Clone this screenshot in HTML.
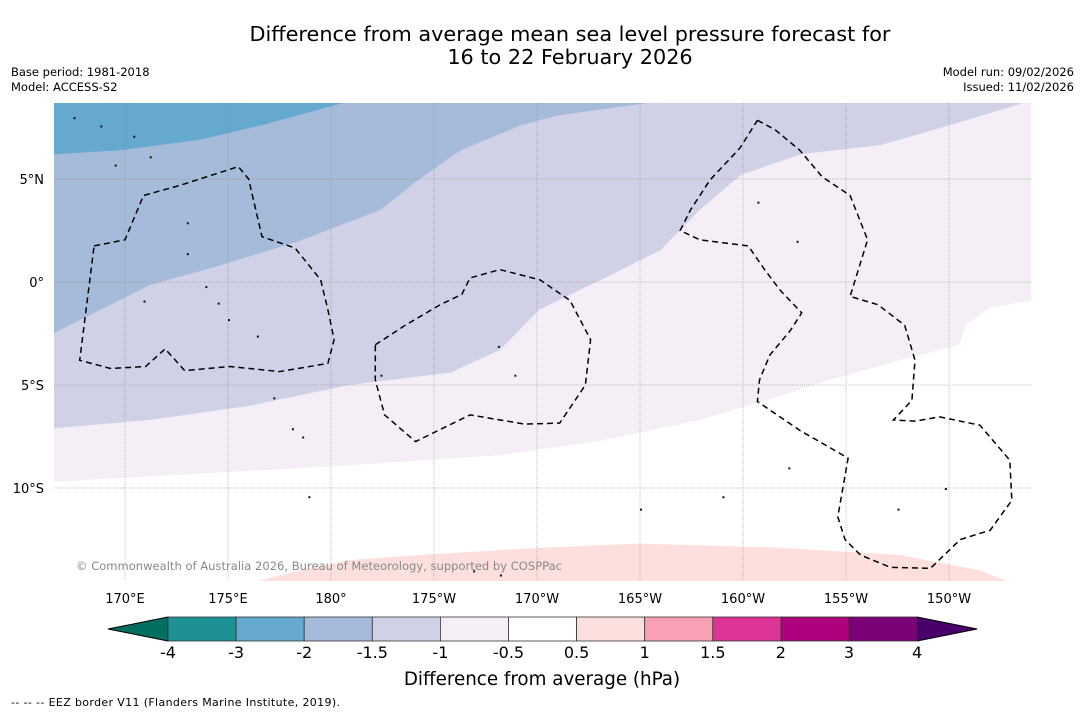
<!DOCTYPE html>
<html><head><meta charset="utf-8"><style>
body{margin:0;background:#fff;font-family:"DejaVu Sans","Liberation Sans",sans-serif;}
svg text{font-family:"DejaVu Sans","Liberation Sans",sans-serif;}
</style></head><body>
<svg id="c" width="1085" height="713" viewBox="0 0 1085 713" xmlns="http://www.w3.org/2000/svg">
<text x="570" y="41" font-size="20.8" text-anchor="middle">Difference from average mean sea level pressure forecast for</text>
<text x="570" y="64" font-size="20.8" text-anchor="middle">16 to 22 February 2026</text>
<text x="11" y="76" font-size="11.5">Base period: 1981-2018</text>
<text x="11" y="91" font-size="11.5">Model: ACCESS-S2</text>
<text x="1074" y="76" font-size="11.5" text-anchor="end">Model run: 09/02/2026</text>
<text x="1074" y="91" font-size="11.5" text-anchor="end">Issued: 11/02/2026</text>
<defs><clipPath id="mc"><rect x="54" y="103" width="977" height="478"/></clipPath></defs>
<g id="map" clip-path="url(#mc)"></g>
<g id="axes"></g>
<g id="cbar"></g>
<text x="542" y="685" font-size="18.3" text-anchor="middle">Difference from average (hPa)</text>
<text x="11" y="706" font-size="11" textLength="329">--  --  -- EEZ border V11 (Flanders Marine Institute, 2019).</text>
</svg>
<script>
// Axis ranges (lon in degrees east 0-360)
const lonTicks=[170,175,180,185,190,195,200,205,210];
const lonLabels=["170°E","175°E","180°","175°W","170°W","165°W","160°W","155°W","150°W"];
const latTicks=[5,0,-5,-10];
const latLabels=["5°N","0°","5°S","10°S"];
// Contour boundaries [lon,lat]
const cM2=[[166.5,6.2],[169.8,6.4],[173.6,6.9],[176.6,7.6],[181.0,8.8]];
const cM15=[[166.5,-2.5],[168.8,-1.35],[171.2,-0.15],[174.6,0.8],[178.5,2.0],[182.4,3.5],[184.3,5.0],[186.3,6.4],[189.2,7.6],[191.1,8.1],[196.2,8.8]];
const cM1=[[166.5,-7.1],[171.2,-6.7],[176.1,-6.0],[180.9,-5.0],[185.8,-4.4],[188.2,-3.3],[190.1,-1.35],[193.1,0.1],[196.0,1.55],[197.9,3.5],[199.9,5.2],[202.8,6.2],[206.7,6.65],[210.0,7.6],[214.0,8.8]];
const cM05=[[166.5,-9.7],[173.6,-9.3],[180.9,-8.9],[188.2,-8.4],[193.1,-7.7],[197.9,-6.7],[201.3,-5.7],[204.2,-4.75],[207.6,-3.8],[210.5,-3.05],[210.8,-2.1],[212.0,-1.25],[214.0,-0.9]];
const cP05=[[176.1,-14.6],[178.5,-14.0],[180.9,-13.5],[184.3,-13.25],[190.1,-12.9],[195.0,-12.7],[201.8,-12.9],[207.6,-13.25],[211.5,-14.0],[213.0,-14.6]];
const eez1=[[168.5,1.75],[170,2.05],[170.9,4.2],[172.7,4.7],[175.5,5.6],[176,5.0],[176.65,2.2],[178.25,1.65],[179.5,0.1],[179.85,-1.35],[180.15,-2.8],[179.85,-3.95],[177.5,-4.35],[175.1,-4.1],[172.9,-4.3],[171.95,-3.25],[171,-4.1],[169.3,-4.2],[167.8,-3.8],[168.5,1.75]];
const eez2=[[182.15,-3.05],[183.6,-2.1],[185.3,-1.1],[186.35,-0.6],[186.75,0.2],[188.2,0.6],[190.15,0.1],[191.6,-0.9],[192.6,-2.8],[192.35,-5],[191.1,-6.85],[189.4,-6.9],[186.75,-6.45],[184.1,-7.75],[182.6,-6.45],[182.15,-4.75],[182.15,-3.05]];
const eez3=[[200.7,7.85],[201.55,7.4],[202.75,6.4],[203.85,5.1],[205.2,4.2],[206.05,2.05],[205.2,-0.7],[206.55,-1.1],[207.85,-2.1],[208.35,-3.8],[208.2,-5.75],[207.3,-6.7],[208.35,-6.75],[209.55,-6.55],[211.5,-6.95],[212.95,-8.65],[213.05,-10.6],[212,-12.05],[210.55,-12.5],[209.1,-13.9],[207.15,-13.85],[205.7,-13.25],[204.95,-12.5],[204.6,-11.4],[205.1,-8.55],[202.75,-7.2],[200.7,-5.8],[200.8,-4.75],[201.3,-3.55],[202.3,-2.35],[202.85,-1.5],[201.8,-0.4],[201.05,0.6],[200.25,1.75],[197.9,2.05],[196.95,2.5],[197.45,3.5],[198.4,4.95],[199.85,6.5],[200.7,7.85]];
const islands=[[170.9,-0.9],[173.0,1.4],[173.0,2.9],[173.9,-0.2],[174.5,-1.0],[175.0,-1.8],[176.4,-2.6],[177.2,-5.6],[178.1,-7.1],[178.6,-7.5],[182.4,-4.5],[188.1,-3.1],[188.9,-4.5],[195.0,-11.0],[199.0,-10.4],[202.2,-9.0],[202.6,2.0],[200.7,3.9],[207.5,-11.0],[209.8,-10.0],[178.9,-10.4],[186.9,-14.0],[188.2,-14.2],[167.5,8.0],[168.8,7.6],[170.4,7.1],[171.2,6.1],[169.5,5.7]];
const cbColors=["#1e9196","#65a9cf","#a6bada","#d0d1e6","#f5eef7","#ffffff","#fde0dd","#f9a0b5","#dd3497","#ae017e","#7a0177"];
const cbLabels=["-4","-3","-2","-1.5","-1","-0.5","0.5","1","1.5","2","3","4"];

const NS="http://www.w3.org/2000/svg";
const X=lon=>125+(lon-170)*20.6;
const Y=lat=>282-lat*20.6;
function mk(tag,at,parent){const e=document.createElementNS(NS,tag);for(const k in at)e.setAttribute(k,at[k]);parent.appendChild(e);return e;}
const pts=a=>a.map(p=>X(p[0]).toFixed(1)+","+Y(p[1]).toFixed(1)).join(" ");
const map=document.getElementById("map");
function band(line,color,name,top){
  const first=line[0],last=line[line.length-1];
  const edge=top?20:-20;
  const poly=[[first[0],edge],...line,[last[0],edge]];
  const e=mk("polygon",{points:pts(poly),fill:color},map);
  
  
}
band(cM05,"#f5eef7","contour-minus-0-5",true);
band(cM1,"#d0d1e6","contour-minus-1",true);
band(cM15,"#a6bada","contour-minus-1-5",true);
band(cM2,"#65a9cf","contour-minus-2",true);
band(cP05,"#fde0dd","contour-plus-0-5",false);
// grid
lonTicks.forEach((v,i)=>{
  const g=mk("line",{x1:X(v),x2:X(v),y1:103,y2:581,stroke:"#888","stroke-width":0.5,"stroke-dasharray":"1,1"},map);
  
  
  const t=mk("text",{x:X(v),y:603,"font-size":13,"text-anchor":"middle"},document.getElementById("axes"));
  t.textContent=lonLabels[i];
  
  
});
latTicks.forEach((v,i)=>{
  const g=mk("line",{x1:54,x2:1031,y1:Y(v),y2:Y(v),stroke:"#888","stroke-width":0.5,"stroke-dasharray":"1,1"},map);
  
  
  const t=mk("text",{x:44,y:Y(v)+5,"font-size":13,"text-anchor":"end"},document.getElementById("axes"));
  t.textContent=latLabels[i];
  
  
});
[eez1,eez2,eez3].forEach(a=>{
  const e=mk("polyline",{points:pts(a),fill:"none",stroke:"#000","stroke-width":1.5,"stroke-dasharray":"6,4"},map);
  
  
});
islands.forEach(p=>{
  const e=mk("rect",{x:X(p[0]),y:Y(p[1]),width:2,height:2,fill:"#111"},map);
  
  
});
const cr=mk("text",{x:76,y:570,"font-size":11.5,fill:"#888",textLength:486},map);
cr.textContent="© Commonwealth of Australia 2026, Bureau of Meteorology, supported by COSPPac";


// colorbar
const cb=document.getElementById("cbar");
const x0=168,w=68.1,y0=617,h=24;
const la=mk("polygon",{points:`${x0},${y0} 108,${y0+h/2} ${x0},${y0+h}`,fill:"#026e5f",stroke:"#000","stroke-width":1},cb);


const xe=x0+w*cbColors.length;
const ra=mk("polygon",{points:`${xe},${y0} ${xe+60},${y0+h/2} ${xe},${y0+h}`,fill:"#49006a",stroke:"#000","stroke-width":1},cb);


cbColors.forEach((c,i)=>{
  const r=mk("rect",{x:x0+i*w,y:y0,width:w,height:h,fill:c,stroke:"#333","stroke-width":0.8},cb);
  
  
});
cbLabels.forEach((l,i)=>{
  const t=mk("text",{x:x0+i*w,y:658,"font-size":16,"text-anchor":"middle"},cb);
  t.textContent=l;
  
  
});
</script>
</body></html>
